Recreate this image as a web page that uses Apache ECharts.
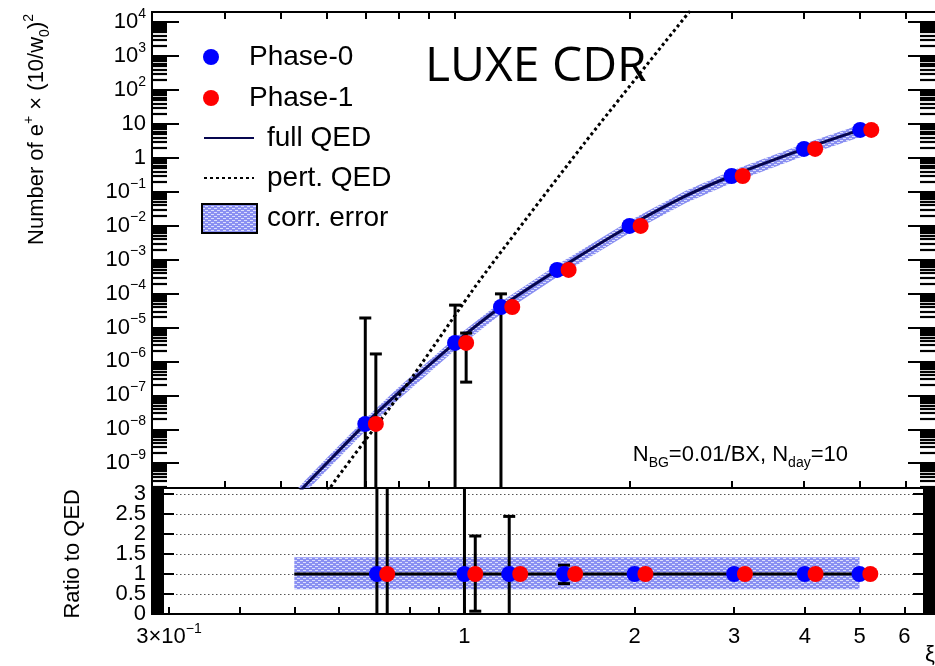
<!DOCTYPE html>
<html>
<head>
<meta charset="utf-8">
<title>LUXE CDR - e+ yield vs xi</title>
<script src="https://cdn.jsdelivr.net/npm/echarts@6/dist/echarts.min.js"></script>
<style>
  html, body { margin: 0; padding: 0; background: #fff; }
  #chart { width: 935px; height: 666px; }
</style>
</head>
<body>
<div id="chart"></div>
<script>
// ---- values ----
// data points: xi and number of e+ (Phase-1 drawn a bit to the right)
const phase0Xi = [0.7, 1.0, 1.2, 1.5, 2.0, 3.0, 4.0, 5.0];
const phase1Xi = [0.73, 1.045, 1.255, 1.57, 2.09, 3.135, 4.18, 5.225];
const phase0N = [1.44e-8, 3.5e-6, 4.0e-5, 4.95e-4, 9.8e-3, 0.29, 1.82, 6.6];
const phase1N = [1.44e-8, 3.5e-6, 4.0e-5, 4.95e-4, 9.8e-3, 0.29, 1.82, 6.6];

// ratio to QED, and error bar ends as ratios (0 = off the bottom)
const phase0Ratio = [1, 1, 1, 1, 1, 1, 1, 1];
const phase1Ratio = [1, 1, 1, 1, 1, 1, 1, 1];
const phase0ErrLo = [0, 0, 0, 0.76, 0.97, 0.98, 0.99, 0.99];
const phase0ErrHi = [1320, 13, 2.44, 1.22, 1.03, 1.02, 1.01, 1.01];
const phase1ErrLo = [0, 0.07, 0.9, 0.95, 0.97, 0.98, 0.99, 0.99];
const phase1ErrHi = [115, 1.95, 1.1, 1.05, 1.03, 1.02, 1.01, 1.01];

// full QED curve
const qedXi = [0.5, 0.55, 0.6, 0.7, 0.8, 1.0, 1.2, 1.5, 2.0, 2.5, 3.0, 4.0, 5.0];
const qedN = [3.6e-11, 2.1e-10, 9.8e-10, 1.44e-8, 1.23e-7, 3.5e-6, 4.0e-5, 4.95e-4, 9.8e-3, 7.5e-2, 0.29, 1.82, 6.6];

// perturbative QED (dotted)
const pertXi = [0.586, 0.622, 0.821, 1.104, 1.673, 2.534, 2.69];
const pertN = [7.2e-11, 3.2e-10, 1.8e-7, 2.5e-4, 2.73, 1.97e4, 6.7e4];

// correlated error band (ratio to QED)
const corrErrLo = 0.62;
const corrErrHi = 1.42;
const ratioLineXi = [0.5, 5.0];
const ratioLine = [1, 1];

// axes
const topXRange = [0.3, 6.73];
const botXRange = [0.28, 6.8];
const topYRange = [1.86e-10, 1.97e4];
const ratioRange = [0, 3.15];
const xLabelVals = [0.3, 1, 2, 3, 4, 5, 6];
const xTickVals = [0.3, 0.4, 0.5, 0.6, 0.7, 0.8, 0.9, 1, 2, 3, 4, 5, 6];
const yDecades = [-9, -8, -7, -6, -5, -4, -3, -2, -1, 0, 1, 2, 3, 4];
const ratioLabelsWhole = [0, 1, 2, 3];
const ratioLabelsHalf = [0.5, 1.5, 2.5];

const FONT = 'Liberation Sans';
const lg = Math.log10;

// hatched fill like ROOT's pattern
const hatchCanvas = (function () {
  const c = document.createElement('canvas');
  c.width = 6; c.height = 4;
  const g = c.getContext('2d');
  g.fillStyle = '#8a90f2';
  g.fillRect(0, 0, 6, 4);
  g.fillStyle = '#dcdffc';
  g.fillRect(0, 0, 3, 1);
  g.fillRect(3, 2, 3, 1);
  return c;
})();
const HATCH = { image: hatchCanvas, repeat: 'repeat' };

const RICH = {
  b: { fontSize: 22, fontFamily: FONT, color: '#000', lineHeight: 30 },
  sup: { fontSize: 14, fontFamily: FONT, color: '#000', verticalAlign: 'top' },
  sub: { fontSize: 14, fontFamily: FONT, color: '#000', verticalAlign: 'bottom' }
};

// tick positions in log10 space for the frame axes
const yLogMin = lg(topYRange[0]), yLogMax = lg(topYRange[1]);
const yMinor = [];
for (let d = -10; d <= 4; d++) {
  for (let k = 2; k <= 9; k++) {
    const v = d + lg(k);
    if (v > yLogMin && v < yLogMax) yMinor.push(v);
  }
}
const ratioMinor = [];
for (let i = 1; i * 0.05 < ratioRange[1]; i++) ratioMinor.push(+(i * 0.05).toFixed(2));
const ratioMajor = ratioLabelsWhole.concat(ratioLabelsHalf);

function fmtDecade(v) {
  const k = Math.round(v);
  if (k === 0) return '{b|1}';
  if (k === 1) return '{b|10}';
  return '{b|10}{sup|' + String(k).replace('-', '\u2212') + '}';
}

function fmtXi(v) {
  const x = Math.round(Math.pow(10, v) * 10) / 10;
  if (x < 1) return '{b|' + Math.round(x * 10) + '\u00d710}{sup|\u22121}';
  return '{b|' + x + '}';
}

const blackLine = { color: '#000', width: 2 };

function decoX(gridIndex, position, range, withLabels) {
  return {
    type: 'value', gridIndex: gridIndex, position: position,
    min: lg(range[0]), max: lg(range[1]), silent: true,
    axisLine: { show: true, onZero: false, lineStyle: blackLine },
    axisTick: { show: true, inside: true, length: 7, customValues: xTickVals.map(lg), lineStyle: blackLine },
    axisLabel: withLabels ? {
      show: true, customValues: xLabelVals.map(lg), margin: 8, formatter: fmtXi, rich: RICH,
      showMinLabel: true, showMaxLabel: true
    } : { show: false },
    splitLine: { show: false }
  };
}

function decoY(gridIndex, position, min, max, ticks, len, extra) {
  return Object.assign({
    type: 'value', gridIndex: gridIndex, position: position,
    min: min, max: max, silent: true,
    axisLine: { show: position === 'left', onZero: false, lineStyle: blackLine },
    axisTick: { show: true, inside: true, length: len, customValues: ticks, lineStyle: { color: '#000', width: len > 16 ? 2 : 2.2 } },
    axisLabel: { show: false },
    splitLine: { show: false }
  }, extra || {});
}

function ratioLabel(values) {
  return {
    show: true, customValues: values, margin: 6, fontSize: 22, fontFamily: FONT, color: '#000',
    showMinLabel: true, showMaxLabel: true
  };
}

function bandShape(api, xs, his, los, smooth) {
  const pts = [];
  for (let i = 0; i < xs.length; i++) pts.push(api.coord([xs[i], his[i]]));
  for (let i = xs.length - 1; i >= 0; i--) pts.push(api.coord([xs[i], los[i]]));
  return { type: 'polygon', shape: { points: pts, smooth: smooth }, style: { fill: HATCH, stroke: null } };
}

function errorBar(params, api) {
  const cs = params.coordSys;
  const top = cs.y, bottom = cs.y + cs.height;
  const x = api.value(0), lo = api.value(2), hi = api.value(3);
  const px = api.coord([x, api.value(1)])[0];
  const yHi = api.coord([x, hi])[1];
  const yLo = lo > 0 ? api.coord([x, lo])[1] : Infinity;
  const st = { stroke: '#000', lineWidth: 3 };
  const kids = [{ type: 'line', shape: { x1: px, y1: Math.max(yHi, top), x2: px, y2: Math.min(yLo, bottom) }, style: st }];
  if (yHi >= top) kids.push({ type: 'line', shape: { x1: px - 6, y1: yHi, x2: px + 6, y2: yHi }, style: st });
  if (yLo <= bottom) kids.push({ type: 'line', shape: { x1: px - 6, y1: yLo, x2: px + 6, y2: yLo }, style: st });
  return { type: 'group', children: kids };
}

function errData(xs, ys, los, his) {
  return xs.map((x, i) => [x, ys[i], ys[i] * los[i], ys[i] * his[i]]);
}

const chart = echarts.init(document.getElementById('chart'));

const legendText = { fontSize: 28, fontFamily: FONT, color: '#000', padding: [0, 0, 0, 8] };
const noSymbol = { opacity: 0 };

const option = {
  animation: false,
  backgroundColor: '#fff',
  textStyle: { fontFamily: FONT, color: '#000' },
  grid: [
    { left: 152, right: -2, top: 12, height: 476 },
    { left: 152, right: -2, top: 488, height: 126 }
  ],
  legend: [
    {
      data: ['Phase-0', 'Phase-1'], orient: 'vertical', left: 203, top: 43, padding: 0,
      itemWidth: 50, itemHeight: 16, itemGap: 13, selectedMode: false, textStyle: legendText
    },
    {
      data: [
        { name: 'full QED', itemStyle: noSymbol },
        { name: 'pert. QED', itemStyle: noSymbol }
      ],
      orient: 'vertical', left: 203, top: 124, padding: 0,
      itemWidth: 50, itemHeight: 16, itemGap: 12, selectedMode: false, textStyle: legendText
    },
    {
      data: [{ name: 'corr. error', icon: 'rect', itemStyle: { color: HATCH, borderColor: '#000', borderWidth: 2 } }],
      orient: 'vertical', left: 201, top: 203, padding: 0,
      itemWidth: 55, itemHeight: 29, selectedMode: false,
      textStyle: Object.assign({}, legendText, { padding: [0, 0, 0, 5] })
    }
  ],
  xAxis: [
    { type: 'log', gridIndex: 0, min: topXRange[0], max: topXRange[1], show: false },
    decoX(0, 'bottom', topXRange, false),
    decoX(0, 'top', topXRange, false),
    { type: 'log', gridIndex: 1, min: botXRange[0], max: botXRange[1], show: false },
    decoX(1, 'bottom', botXRange, true)
  ],
  yAxis: [
    { type: 'log', gridIndex: 0, min: topYRange[0], max: topYRange[1], show: false },
    decoY(0, 'left', yLogMin, yLogMax, yDecades, 27, {
      axisLabel: { show: true, customValues: yDecades, margin: 6, formatter: fmtDecade, rich: RICH, showMinLabel: true, showMaxLabel: true }
    }),
    decoY(0, 'left', yLogMin, yLogMax, yMinor, 15),
    decoY(0, 'right', yLogMin, yLogMax, yDecades, 27),
    decoY(0, 'right', yLogMin, yLogMax, yMinor, 15),
    decoY(1, 'left', ratioRange[0], ratioRange[1], ratioMajor, 22, {
      axisLabel: ratioLabel(ratioLabelsWhole),
      splitLine: { show: true, lineStyle: { color: '#555', width: 1, type: [1.5, 2.5] } }
    }),
    decoY(1, 'left', ratioRange[0], ratioRange[1], ratioMinor, 12, {
      axisLabel: ratioLabel(ratioLabelsHalf)
    }),
    decoY(1, 'right', ratioRange[0], ratioRange[1], ratioMajor, 22),
    decoY(1, 'right', ratioRange[0], ratioRange[1], ratioMinor, 12)
  ],
  series: [
    // ---- upper panel ----
    {
      type: 'custom', name: 'corr. error', xAxisIndex: 0, yAxisIndex: 0, clip: true, z: 1, silent: true,
      encode: { x: 0, y: 1 }, itemStyle: { color: '#8a90f2' },
      data: qedXi.map((x, i) => [x, qedN[i]]),
      renderItem: (params, api) => params.dataIndex === 0
        ? bandShape(api, qedXi, qedN.map(v => v * corrErrHi), qedN.map(v => v * corrErrLo), 0) : null
    },
    {
      type: 'line', name: 'full QED', xAxisIndex: 0, yAxisIndex: 0, z: 2, symbol: 'none', silent: true, smooth: 0.2,
      data: qedXi.map((x, i) => [x, qedN[i]]),
      itemStyle: { color: '#000' }, lineStyle: { color: '#06064f', width: 3 }
    },
    {
      type: 'line', name: 'pert. QED', xAxisIndex: 0, yAxisIndex: 0, z: 2, symbol: 'none', silent: true, smooth: 0.2,
      data: pertXi.map((x, i) => [x, pertN[i]]),
      itemStyle: { color: '#000' }, lineStyle: { color: '#000', width: 3, type: [3, 3] }
    },
    {
      type: 'custom', xAxisIndex: 0, yAxisIndex: 0, z: 3, silent: true, encode: { x: 0, y: 1 },
      data: errData(phase0Xi, phase0N, phase0ErrLo, phase0ErrHi), renderItem: errorBar
    },
    {
      type: 'custom', xAxisIndex: 0, yAxisIndex: 0, z: 3, silent: true, encode: { x: 0, y: 1 },
      data: errData(phase1Xi, phase1N, phase1ErrLo, phase1ErrHi), renderItem: errorBar
    },
    {
      type: 'scatter', name: 'Phase-0', xAxisIndex: 0, yAxisIndex: 0, z: 4, symbolSize: 16, silent: true,
      itemStyle: { color: '#0000ff', opacity: 1 },
      data: phase0Xi.map((x, i) => [x, phase0N[i]])
    },
    {
      type: 'scatter', name: 'Phase-1', xAxisIndex: 0, yAxisIndex: 0, z: 4, symbolSize: 16, silent: true,
      itemStyle: { color: '#ff0000', opacity: 1 },
      data: phase1Xi.map((x, i) => [x, phase1N[i]])
    },
    // ---- ratio panel ----
    {
      type: 'custom', name: 'corr. error', xAxisIndex: 3, yAxisIndex: 5, clip: true, z: 1, silent: true,
      encode: { x: 0, y: 1 }, itemStyle: { color: '#8a90f2' },
      data: ratioLineXi.map((x, i) => [x, ratioLine[i]]),
      renderItem: (params, api) => params.dataIndex === 0
        ? bandShape(api, ratioLineXi, ratioLine.map(v => v * corrErrHi), ratioLine.map(v => v * corrErrLo), 0) : null
    },
    {
      type: 'line', name: 'full QED', xAxisIndex: 3, yAxisIndex: 5, z: 2, symbol: 'none', silent: true,
      data: ratioLineXi.map((x, i) => [x, ratioLine[i]]),
      lineStyle: { color: '#000', width: 3 }
    },
    {
      type: 'custom', xAxisIndex: 3, yAxisIndex: 5, z: 3, silent: true, encode: { x: 0, y: 1 },
      data: errData(phase0Xi, phase0Ratio, phase0ErrLo, phase0ErrHi), renderItem: errorBar
    },
    {
      type: 'custom', xAxisIndex: 3, yAxisIndex: 5, z: 3, silent: true, encode: { x: 0, y: 1 },
      data: errData(phase1Xi, phase1Ratio, phase1ErrLo, phase1ErrHi), renderItem: errorBar
    },
    {
      type: 'scatter', name: 'Phase-0', xAxisIndex: 3, yAxisIndex: 5, z: 4, symbolSize: 16, silent: true,
      itemStyle: { color: '#0000ff', opacity: 1 },
      data: phase0Xi.map((x, i) => [x, phase0Ratio[i]])
    },
    {
      type: 'scatter', name: 'Phase-1', xAxisIndex: 3, yAxisIndex: 5, z: 4, symbolSize: 16, silent: true,
      itemStyle: { color: '#ff0000', opacity: 1 },
      data: phase1Xi.map((x, i) => [x, phase1Ratio[i]])
    }
  ],
  graphic: [
    {
      type: 'text', x: 37, y: 14, rotation: Math.PI / 2, silent: true,
      style: {
        text: '{b|Number of e}{sup|+}{b| \u00d7 (10/w}{sub|0}{b|)}{sup|2}',
        align: 'right', verticalAlign: 'middle', rich: RICH
      }
    },
    {
      type: 'text', x: 73, y: 489, rotation: Math.PI / 2, silent: true,
      style: { text: 'Ratio to QED', font: '22px "Liberation Sans"', fill: '#000', align: 'right', verticalAlign: 'middle' }
    },
    {
      type: 'text', x: 925, y: 655, silent: true,
      style: { text: '\u03be', font: '22px "Liberation Sans"', fill: '#000', align: 'left', verticalAlign: 'middle' }
    },
    {
      type: 'text', x: 425, y: 67, silent: true,
      style: { text: 'LUXE CDR', font: '48px "Open Sans"', fill: '#000', align: 'left', verticalAlign: 'middle' }
    },
    {
      type: 'text', x: 848, y: 455, silent: true,
      style: {
        text: '{b|N}{sub|BG}{b|=0.01/BX, N}{sub|day}{b|=10}',
        align: 'right', verticalAlign: 'middle', rich: RICH
      }
    }
  ]
};

chart.setOption(option);
window.addEventListener('resize', () => chart.resize());
</script>
</body>
</html>
